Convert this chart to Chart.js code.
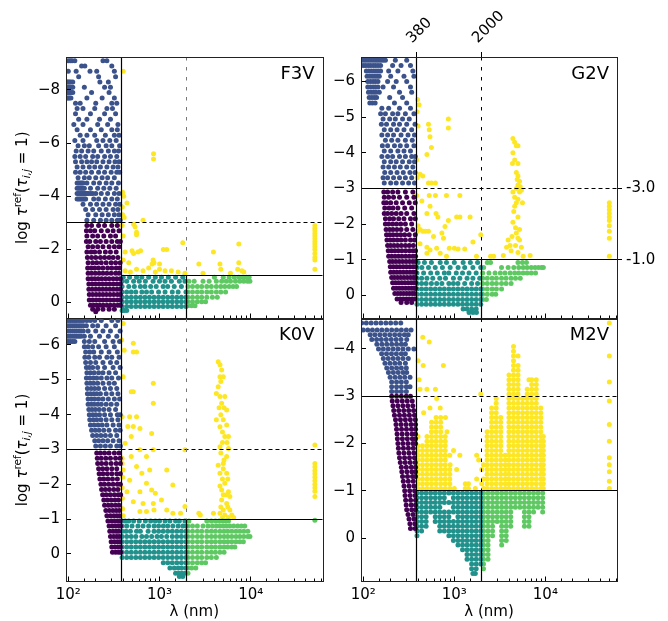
<!DOCTYPE html>
<html>
<head>
<meta charset="utf-8">
<script src="https://cdn.jsdelivr.net/npm/chart.js@4"></script>
<style>
  body { margin: 0; background: #fff; }
  canvas { position: absolute; left: 0; top: 0; }
</style>
</head>
<body>
<canvas id="c0" width="668" height="621"></canvas>
<canvas id="c1" width="668" height="621"></canvas>
<canvas id="c2" width="668" height="621"></canvas>
<canvas id="c3" width="668" height="621"></canvas>
<script>
// wavelength axis (nm) and the two cuts
var xRange = [94.4, 61200];
var lamCuts = [380, 2000];
var tauCuts = [-3, -1];

var starTypes = ['F3V', 'G2V', 'K0V', 'M2V'];
var tauRanges = [[-9.24, 0.6], [-6.69, 0.65], [-6.76, 0.79], [-4.645, 0.92]];
var tauSteps = [2, 1, 1, 1];

// rows: [log tau, [wavelengths in nm]]
var f3vRows = [
  [-9.1,[100,105,110,118,240,265]],[-8.9,[140,152,300]],[-8.7,[100,122,173,205,320]],[-8.5,[130,215,330]],
  [-8.3,[97,100,103,107,112,222,275]],[-8.1,[97,100,103,107,112,150,250,290]],[-7.9,[97,100,103,107,112,180,280]],
  [-7.7,[97,100,103,107,160,235,320]],[-7.5,[120,135,200,300,340]],[-7.3,[125,145,195,265,305]],[-7.1,[120,175,250,330]],
  [-6.9,[130,160,220,290]],[-6.7,[115,145,210,270,350]],[-6.5,[125,175,230,300,345]],[-6.3,[135,160,195,255,320,360]],
  [-6.1,[118,145,205,240,285,335]],[-5.9,[128,150,170,215,260,300,365]],[-5.7,[122,140,165,190,230,275,320,355]],
  [-5.5,[118,135,155,185,210,250,290,340]],[-5.3,[120,140,160,180,205,240,280,325,360]],[-5.1,[125,145,170,195,225,265,310,350]],
  [-4.9,[120,135,155,180,215,250,295,340,365]],[-4.7,[128,150,170,200,235,270,320]],
  [-4.5,[125,130,135,140,145,160,190,220,260,300,355]],[-4.3,[125,130,135,140,145,150,175,210,245,285,335]],
  [-4.1,[125,130,135,140,145,150,155,160,165,175,185,200,230,270,320,360]],[-3.9,[125,130,135,140,145,150,155,190,215,255,300,345]],
  [-3.7,[145,175,205,240,280,330,365]],[-3.5,[155,185,220,260,310,350]],[-3.3,[165,200,235,275,320,360]],[-3.1,[160,190,225,260,300,345,370]],
  [-2.9,[160,180,215,250,300,345]],[-2.7,[158,175,195,230,270,310,360]],[-2.5,[160,185,210,245,290,330]],
  [-2.3,[158,172,200,225,260,300,345,372]],[-2.1,[165,185,210,240,280,320,360]],[-1.9,[160,178,195,220,255,290,335]],
  [-1.7,[162,180,200,225,250,280,310,350]],[-1.5,[165,185,205,230,260,295,330,370]],[-1.3,[163,178,195,215,240,270,300,335,365]],
  [-1.1,[165,180,198,218,240,265,295,330,360]],[-0.9,[165,180,195,212,232,255,280,310,340,372]],
  [-0.7,[168,183,200,218,238,260,285,312,342,372]],[-0.5,[168,183,200,218,238,260,285,312,342,372]],
  [-0.3,[170,185,202,220,240,262,287,315,345,372]],[-0.1,[170,185,202,220,240,262,287,315,345,372]],
  [0.1,[175,190,205,222,242,265,290,318,348,372]],[0.25,[185,210,240,280,320]],[0.35,[200]],
  [-0.95,[400,470,560,640,760,900,1050,1250,1500,1800]],[-0.8,[389,437,520,600,700,850,1000,1150,1350,1650,1900]],
  [-0.6,[389,460,530,617,692,800,920,1096,1230,1450,1738]],[-0.4,[389,437,490,550,640,720,820,977,1150,1380,1600,1950]],
  [-0.2,[389,437,490,550,617,692,776,871,977,1096,1230,1380,1549,1738,1950]],
  [-0.03,[389,437,490,550,617,692,776,871,977,1096,1230,1380,1549,1738,1950]],
  [0.15,[389,437,490,550,617,692,776,871,977,1096,1230,1380,1549,1738,1950]],[0.3,[389,410,437]],
  [-0.95,[4000,5000,5800,6600,7400,8200,9000,9600]],[-0.8,[2100,2400,3000,3500,4200,4800,5400,6000,6800,7600,8400,9200,9800]],
  [-0.6,[2050,2300,2600,2900,3300,3700,4200,4700,5200,5800,6400,7000]],[-0.4,[2050,2300,2600,2900,3300,3700,4200,4700,5300]],
  [-0.2,[2050,2300,2600,2900,3300,3800,4300]],[-0.03,[2050,2300,2600,2900,3200]],[0.12,[2050,2250,2450]],
  [-8.7,[400]],[-5.6,[860]],[-5.4,[860]],[-4.15,[395]],[-4.0,[405]],[-3.75,[440]],[-3.6,[392]],[-3.3,[395]],[-3.2,[410]],
  [-3.1,[660]],[-2.95,[520]],[-2.9,[390]],[-2.85,[540]],[-2.65,[560]],[-2.55,[560]],[-2.5,[400]],[-2.25,[1800]],[-2.2,[7400]],
  [-2.0,[1100,1200]],[-1.95,[500,620]],[-1.9,[420,580,3900]],[-1.85,[520]],[-1.6,[400,850]],[-1.5,[460,870,7400]],
  [-1.45,[830,1000,2700,4600]],[-1.3,[760]],[-1.25,[560,1000,4700,7200]],[-1.2,[420,660,1150,1350,8000]],
  [-1.15,[480,900,1600,8400]],[-1.1,[1900,3000,6000]],
  [-2.9,[50500]],[-2.8,[50500]],[-2.7,[50500]],[-2.6,[50500]],[-2.5,[50500]],[-2.4,[50500]],[-2.3,[50500]],[-2.2,[50500]],
  [-2.1,[50500]],[-2.0,[50500]],[-1.85,[50500]],[-1.7,[50500]],[-1.6,[50500]],[-1.25,[50500]]
];

var g2vRows = [
  [-6.6,[96,102,108,115,122,130,138,146,155,165,175,225,300]],[-6.45,[100,106,113,120,128,136,145,155,210,260,330]],
  [-6.3,[108,115,122,130,138,146,155,190,240,350]],[-6.15,[110,118,126,134,142,150,200,280,360]],
  [-6.0,[112,120,128,136,145,185,230,300]],[-5.85,[112,120,128,136,145,165,215,330]],[-5.7,[114,122,130,138,150,250,340]],
  [-5.55,[116,124,132,140,195,270]],[-5.4,[118,126,135,220,300]],[-5.25,[160,190,250,330]],[-5.1,[155,175,210,240,290,360]],
  [-4.95,[165,195,225,270,320]],[-4.8,[158,180,215,250,300,370]],[-4.65,[170,200,235,280,340]],[-4.5,[160,185,215,260,310,365]],
  [-4.35,[175,205,240,290,345]],[-4.2,[162,185,220,255,300,360]],[-4.05,[170,200,240,280,330]],[-3.9,[160,185,210,250,290,340,372]],
  [-3.75,[170,200,230,270,320,365]],[-3.6,[165,190,220,255,300,350]],[-3.45,[172,200,235,275,325,370]],
  [-3.3,[165,185,215,250,290,340]],[-3.15,[170,200,230,270,315,365]],
  [-2.9,[168,185,210,240,290,350]],[-2.75,[170,190,215,250,300,360]],[-2.6,[168,180,200,230,270,320,372]],
  [-2.45,[172,192,212,240,285,340]],[-2.3,[170,185,205,230,260,300,360]],[-2.15,[175,195,215,245,280,330,372]],
  [-2.0,[175,190,210,232,258,290,340]],[-1.85,[178,195,212,234,260,300,350]],[-1.7,[180,195,212,234,258,285,320,372]],
  [-1.55,[182,198,215,236,260,290,330,365]],[-1.4,[185,200,218,238,262,290,320,355]],
  [-1.25,[188,204,222,242,265,292,322,352,375]],[-1.1,[190,206,224,244,266,292,320,350,375]],
  [-0.95,[195,210,228,248,270,295,322,350,375]],[-0.8,[198,214,232,252,274,298,325,352,375]],
  [-0.65,[200,216,234,254,276,300,326,352,375]],[-0.5,[205,220,238,258,280,304,330,355,375]],
  [-0.35,[210,226,244,264,286,310,335,358,375]],[-0.2,[215,232,250,270,292,316,340,362,375]],
  [-0.05,[222,240,258,278,300,322,345,365]],[0.1,[235,255,275,298,320,345,368]],[0.2,[260,300,340]],
  [-0.92,[400,470,560,700,820,1000,1250,1500,1800]],[-0.78,[389,440,520,617,740,900,1100,1300,1600,1950]],
  [-0.63,[389,460,550,650,776,871,1050,1230,1450,1738]],[-0.48,[389,437,500,580,692,800,977,1150,1380,1600,1900]],
  [-0.33,[389,437,490,560,640,730,871,977,1096,1300,1549,1800]],
  [-0.18,[389,437,490,550,617,692,776,871,977,1096,1230,1380,1549,1738,1950]],
  [-0.03,[389,437,490,550,617,692,776,871,977,1096,1230,1380,1549,1738,1950]],
  [0.12,[389,437,490,550,617,692,776,871,977,1096,1230,1380,1549,1738,1950]],
  [0.25,[389,437,490,550,617,692,776,871,977,1096,1230,1380,1549,1738,1950]],
  [0.38,[1250,1380,1549,1738]],[0.48,[1450,1600,1750]],
  [-0.92,[2300,2500,5000,5600,6200]],[-0.78,[2100,3300,3900,4500,5100,5700,6300,7000,7700,8400,9100,9500]],
  [-0.63,[2050,2400,2800,3200,3600,4100,4600,5100,5700,6300,7000,7800]],[-0.48,[2050,2300,2600,2900,3300,3700,4200,4700,5300]],
  [-0.33,[2050,2300,2600,2900,3300,3700,4200]],[-0.18,[2050,2300,2600,2900,3300]],[-0.03,[2050,2300,2600,2850]],[0.12,[2050,2250]],
  [-5.5,[395]],[-5.35,[410]],[-5.15,[390]],[-4.95,[860]],[-4.8,[520]],[-4.75,[400]],[-4.7,[860]],[-4.65,[530]],[-4.45,[540]],
  [-4.15,[560]],[-3.95,[500]],[-3.8,[385]],[-3.4,[420]],[-3.35,[450]],[-3.3,[390]],[-3.15,[520,560,620]],
  [-2.8,[385,530,620,820,1150]],[-2.65,[440]],[-2.5,[541]],[-2.3,[500,630]],[-2.2,[660,1060,1150,1490]],[-2.1,[860]],
  [-1.95,[400]],[-1.93,[790]],[-1.85,[420]],[-1.8,[390,450,480,520]],[-1.75,[730]],[-1.7,[1950]],[-1.65,[590]],[-1.6,[760]],
  [-1.5,[1600]],[-1.45,[420]],[-1.35,[500]],[-1.32,[640,880,1000]],[-1.3,[1100,1300]],[-1.27,[541]],[-1.18,[500,700]],
  [-1.1,[820,1750,2500,2700]],
  [-4.4,[4400]],[-4.3,[4600]],[-4.2,[4800,5000]],[-4.0,[4400]],[-3.8,[4600]],[-3.7,[4350,5000]],[-3.45,[4800]],[-3.35,[5000]],
  [-3.25,[4900]],[-3.2,[5200]],[-3.1,[5000]],[-3.05,[5100,5300]],[-3.0,[4800]],[-2.95,[5450]],[-2.9,[4400,5200]],[-2.75,[4600]],
  [-2.7,[5000]],[-2.6,[4800,5600]],[-2.5,[4600]],[-2.35,[4500]],[-2.2,[5000]],[-2.05,[4400]],[-1.9,[4700]],[-1.85,[5200]],
  [-1.75,[4800]],[-1.65,[4300]],[-1.6,[5000]],[-1.55,[3900,5200]],[-1.4,[4100,4700]],[-1.35,[3750,5450]],[-1.25,[4200]],
  [-1.2,[5000]],[-1.12,[3450,6800]],[-1.1,[5700]],
  [-2.6,[50400]],[-2.5,[50400]],[-2.4,[50400]],[-2.3,[50400]],[-2.2,[50400]],[-2.1,[50400]],[-1.95,[50400]],[-1.8,[50400]],
  [-1.6,[50400]],[-1.1,[50400]]
];

var k0vRows = [
  [-6.7,[96,101,106,112,118,124,131,138,146,160,175,195,230,300,350]],[-6.55,[96,101,106,112,118,124,131,138,146,158,185,210,260,330]],
  [-6.4,[96,101,106,112,118,124,131,138,146,165,200,240,290,370]],[-6.25,[96,101,106,112,118,124,131,138,150,175,220,275,340]],
  [-6.1,[96,101,106,112,118,150,170,195,250,310,365]],[-5.95,[150,165,185,215,260,320]],[-5.8,[155,172,190,230,280,345]],
  [-5.65,[152,168,195,220,265,300,360]],[-5.5,[155,175,200,240,290,340]],[-5.35,[158,170,185,210,250,310,370]],
  [-5.2,[160,175,192,215,240,280,330]],[-5.05,[158,172,188,205,230,265,300,355]],[-4.9,[160,175,190,210,240,280,320]],
  [-4.75,[162,178,195,215,250,290,340]],[-4.6,[162,175,190,205,225,260,300,350]],[-4.45,[165,180,195,215,240,275,320,365]],
  [-4.3,[165,178,192,210,230,260,295,340]],[-4.15,[168,182,198,218,245,280,330]],[-4.0,[170,185,200,220,250,290,345,370]],
  [-3.85,[172,188,205,228,260,300,350]],[-3.7,[175,192,212,235,265,310,360]],[-3.55,[180,198,218,245,280,330,370]],
  [-3.4,[185,205,228,255,290,340]],[-3.25,[195,215,240,270,310,360]],[-3.1,[200,225,255,290,340,372]],
  [-2.9,[205,225,250,280,320,360]],[-2.75,[208,230,258,290,330,370]],[-2.6,[210,232,260,295,335,372]],
  [-2.45,[215,238,265,300,340]],[-2.3,[218,240,268,300,340,372]],[-2.15,[222,245,272,305,345]],
  [-2.0,[228,250,278,310,345,372]],[-1.85,[232,255,282,315,350]],[-1.7,[238,260,288,320,352,375]],
  [-1.55,[245,268,295,325,355]],[-1.4,[250,275,300,330,360]],[-1.25,[258,282,308,335,362]],[-1.1,[265,290,315,340,365]],
  [-0.95,[272,298,322,348,370]],[-0.8,[280,305,330,355,375]],[-0.65,[285,310,335,358]],[-0.5,[290,315,340,362]],
  [-0.35,[295,320,345,368]],[-0.2,[300,325,350,372]],[-0.05,[305,330,355,375]],
  [-0.95,[389,420,460,520,600,700,800,900,1000,1150,1300,1500,1650,1900]],
  [-0.8,[389,437,500,580,660,760,871,977,1100,1230,1400,1600,1800,1950]],
  [-0.65,[389,430,480,560,617,750,871,977,1096,1230,1380,1549,1738,1950]],
  [-0.5,[389,437,490,550,640,720,820,940,1050,1200,1380,1549,1738,1950]],
  [-0.35,[389,437,490,550,617,692,776,871,977,1096,1230,1380,1549,1738,1950]],
  [-0.2,[389,437,490,550,617,692,776,871,977,1096,1230,1380,1549,1738,1950]],
  [-0.05,[389,437,490,550,617,692,776,871,977,1096,1230,1380,1549,1738,1950]],
  [0.1,[389,437,490,550,617,692,776,871,977,1096,1230,1380,1549,1738,1950]],
  [0.25,[1100,1230,1380,1549,1738,1950]],[0.4,[1300,1450,1600,1750,1950]],[0.55,[1500,1620,1750,1900]],[0.65,[1650,1800]],
  [-0.95,[2100,3300,3700,4100,4500,4900,5300,5700]],
  [-0.8,[2050,2300,2600,3000,3400,3800,4200,4600,5000,5400,5900,6500,7200,7900,8600]],
  [-0.65,[2050,2300,2600,2900,3300,3700,4100,4600,5100,5600,6200,6900,7600,8400,9300]],
  [-0.5,[2050,2300,2600,2900,3300,3700,4100,4600,5100,5600,6200,6900,7600,8400,9300,9800]],
  [-0.35,[2050,2300,2600,2900,3300,3700,4100,4600,5100,5600,6200,6900,7600,8300]],
  [-0.2,[2050,2300,2600,2900,3300,3700,4100,4600,5100,5600,6200,6700]],
  [-0.05,[2050,2300,2600,2900,3300,3700,4100,4600,5100]],[0.1,[2050,2300,2600,2900,3300,3700,4200]],
  [0.25,[2050,2300,2600,2900,3200]],[0.4,[2050,2250,2500]],[0.55,[2050]],
  [-6.62,[400]],[-6.14,[385]],[-6.05,[516]],[-5.85,[410]],[-5.8,[516,560]],[-5.09,[400]],[-4.9,[855]],[-4.66,[490,516]],
  [-4.33,[855]],[-3.94,[390,470,560]],[-3.66,[450,516]],[-3.6,[610]],[-3.46,[820]],[-3.37,[490]],[-3.18,[420]],
  [-2.99,[610,855,1900]],[-2.8,[490,720]],[-2.75,[390]],[-2.6,[390]],[-2.51,[560]],[-2.41,[400,780,1200]],[-2.32,[640]],
  [-2.2,[395]],[-2.12,[470]],[-2.03,[720]],[-1.98,[1400]],[-1.9,[390]],[-1.84,[820]],[-1.79,[440,610]],[-1.74,[900]],
  [-1.6,[392]],[-1.55,[1050]],[-1.5,[516]],[-1.45,[660,855]],[-1.36,[1900]],[-1.3,[395]],[-1.26,[870,1200]],
  [-1.22,[610,720]],[-1.17,[1400,1700,2700]],[-1.12,[2800]],[-1.1,[400]],
  [-5.52,[4400]],[-5.43,[4600]],[-5.28,[4800]],[-5.09,[4600,5000]],[-4.95,[4700]],[-4.8,[4400]],[-4.61,[4200]],
  [-4.52,[4600,5200]],[-4.33,[4800]],[-4.2,[4500,5100]],[-4.13,[5450]],[-4.0,[4700]],[-3.85,[4200,5000]],[-3.7,[5450]],
  [-3.65,[4600]],[-3.5,[4900]],[-3.37,[5200,5700]],[-3.2,[4900,5500]],[-3.08,[4600]],[-3.03,[5700]],[-2.9,[4700]],
  [-2.8,[5450]],[-2.7,[5100]],[-2.6,[5000]],[-2.55,[4400]],[-2.45,[5000]],[-2.32,[4600,5450]],[-2.15,[4900,5600]],
  [-2.03,[5200]],[-1.95,[4600]],[-1.84,[4800]],[-1.79,[5700]],[-1.7,[5000,5400]],[-1.65,[5900]],[-1.55,[4800]],
  [-1.45,[5450]],[-1.35,[4700,5600]],[-1.26,[5000,5900]],[-1.17,[3900,4600]],[-1.12,[5200,6200]],[-1.05,[4900,5700,6500]],
  [-3.13,[50500]],[-2.6,[50500]],[-2.5,[50500]],[-2.4,[50500]],[-2.3,[50500]],[-2.2,[50500]],[-2.1,[50500]],
  [-2.0,[50500]],[-1.9,[50500]],[-1.8,[50500]],[-1.65,[50500]],[-0.97,[50500]]
];

var m2vRows = [
  [-4.55,[96,108,122,138,156,177,200,227,258]],[-4.4,[100,112,126,142,160,181,205,232,262,297,335]],
  [-4.3,[119,134,152,172,195,221,250,283,312]],[-4.2,[124,140,158,179,203,230,260,300]],[-4.1,[141,160,181,205,232,262,290]],
  [-4.0,[147,166,188,213,241,273,312,360]],[-3.9,[159,180,204,231,262,290]],[-3.8,[166,188,213,241,273,312]],
  [-3.7,[173,196,222,251,290]],[-3.6,[181,205,232,262,297]],[-3.5,[189,214,242,274,300]],[-3.4,[197,223,252,285,326]],
  [-3.3,[205,232,262,297]],[-3.2,[205,232,262,297,326]],[-3.1,[205,232,262,297]],
  [-3.0,[205,232,262,297,330]],[-2.9,[208,236,268,304,345]],[-2.8,[212,240,272,308,350]],[-2.7,[216,245,278,315,357]],
  [-2.6,[220,250,283,321,365]],[-2.5,[226,256,290,329,373]],[-2.4,[229,260,295,335,375]],[-2.3,[232,263,298,338,375]],
  [-2.2,[235,267,303,343,375]],[-2.1,[237,269,305,346,375]],[-2.0,[240,272,309,350,375]],[-1.9,[243,276,313,355]],
  [-1.8,[246,279,317,359]],[-1.7,[250,284,322,365]],[-1.6,[255,289,328,372]],[-1.5,[262,297,337,375]],
  [-1.4,[265,301,341,375]],[-1.3,[270,306,347,375]],[-1.2,[275,312,354]],[-1.1,[280,318,360]],[-1.0,[285,323,366]],
  [-0.9,[288,327,371]],[-0.8,[292,331,375]],[-0.7,[296,336,375]],[-0.6,[300,340,375]],[-0.5,[310,352]],
  [-0.4,[318,360]],[-0.3,[325,368]],[-0.2,[330,372]],
  [-0.95,[389,437,490,550,617,692,776,871,977,1096,1230,1380,1549,1738,1950]],
  [-0.85,[389,437,490,550,617,692,776,977,1096,1230,1380,1549,1738,1950]],
  [-0.75,[389,437,490,550,617,692,776,871,977,1096,1230,1380,1549,1738,1950]],
  [-0.65,[389,437,490,550,617,692,977,1096,1230,1380,1549,1738,1950]],
  [-0.55,[389,437,490,550,617,692,776,871,977,1096,1230,1380,1549,1738,1950]],
  [-0.45,[389,437,490,617,692,776,871,1096,1230,1380,1549,1738,1950]],
  [-0.35,[389,437,490,617,692,776,871,977,1096,1230,1380,1549,1738,1950]],
  [-0.25,[389,437,490,692,776,871,977,1096,1230,1380,1549,1738,1950]],
  [-0.15,[389,437,692,776,871,977,1096,1230,1380,1549,1738,1950]],
  [-0.05,[389,871,977,1096,1230,1380,1549,1738,1950]],[0.05,[977,1096,1230,1380,1549,1738,1950]],
  [0.15,[1096,1230,1380,1549,1738,1950]],[0.25,[1230,1380,1549,1738,1950]],[0.35,[1380,1549,1738,1950]],
  [0.45,[1380,1549,1738,1950]],[0.55,[1549,1738,1950]],[0.65,[1549,1738]],[0.75,[1600,1700]],
  [-0.95,[2090,2344,2630,2951,3311,3715,4169,4677,5248,5888,6607,7413,8318,9333]],
  [-0.85,[2090,2344,2630,2951,3311,3715,4169,4677,5248,5888,6607,7413,8318,9333]],
  [-0.75,[2090,2344,2630,2951,3311,3715,4169,4677,5248,5888,6607,7413,8318,9333]],
  [-0.65,[2090,2344,2630,2951,3311,3715,4169,4677,5248,5888,6607,7413,8318,9333]],
  [-0.55,[2090,2344,2630,2951,3311,3715,4169,5888,6607,7413,9333]],
  [-0.45,[2090,2344,2630,2951,3311,3715,4169,5888,6607]],[-0.35,[2090,2344,2630,2951,3311,3715,4169,5888,6607]],
  [-0.25,[2090,2344,2630,3311,3715,4169,5888,6607]],[-0.15,[2090,2344,2630,3311,3715]],[-0.05,[2090,2344,2630,3311,3715]],
  [0.05,[2090,2344,3311,3715]],[0.15,[2090,2344,3311]],[0.25,[2090,2344]],[0.35,[2090,2344]],[0.45,[2090,2344]],
  [0.55,[2090]],[0.65,[2090]],
  [-1.05,[398,447,501,562,631,708,794,891,1000,1320,1430,1700,2090,2291,2570,2884,3236,3631,3981,4467,5012,5623,6310,7079,7943,8913,9500]],
  [-1.15,[398,447,501,562,631,708,794,891,1320,1430,2000,2291,2570,2884,3236,3631,3981,4467,5012,5623,6310,7079,7943,8913,9500]],
  [-1.25,[398,447,501,562,631,708,794,891,1760,2090,2291,2570,2884,3236,3631,3981,4467,5012,5623,6310,7079,7943,8913,9500]],
  [-1.35,[398,447,501,562,631,708,794,891,2291,2570,2884,3236,3631,3981,4467,5012,5623,6310,7079,7943,8913,9500]],
  [-1.45,[398,447,501,562,631,708,794,891,1060,2000,2291,2570,2884,3236,3631,3981,4467,5012,5623,6310,7079,7943,8913,9500]],
  [-1.55,[398,447,501,562,631,708,794,900,2090,2291,2570,2884,3236,3631,3981,4467,5012,5623,6310,7079,7943,8913,9500]],
  [-1.65,[398,447,501,562,631,708,794,1850,2291,2570,2884,3236,3631,3981,4467,5012,5623,6310,7079,7943,8913,9500]],
  [-1.75,[398,447,501,562,631,708,794,891,1150,1760,2291,2570,2884,3236,3631,3981,4467,5012,5623,6310,7079,7943,8913,9500]],
  [-1.85,[398,447,501,562,631,708,794,980,2291,2570,2884,3236,3981,4467,5012,5623,6310,7079,7943,8913,9500]],
  [-1.95,[398,447,501,562,631,708,794,2291,2570,2884,3236,3981,4467,5012,5623,6310,7079,7943,8913,9500]],
  [-2.05,[501,562,631,708,794,2291,2570,2884,3236,3981,4467,5012,5623,6310,7079,7943,8913,9500]],
  [-2.15,[400,501,562,631,708,794,2291,2570,2884,3236,3981,4467,5012,5623,6310,7079,7943,8913,9500]],
  [-2.25,[562,631,708,830,2291,2570,2884,3236,3981,4467,5012,5623,6310,7079,7943,8913]],
  [-2.35,[562,631,708,2570,2884,3236,3981,4467,5012,5623,6310,7079,7943,8913]],
  [-2.45,[562,631,708,2570,2884,3236,3981,4467,5012,5623,6310,7079,7943,8913]],
  [-2.55,[631,708,800,2570,2884,3236,3981,4467,5012,5623,6310,7079,7943,8913]],
  [-2.65,[460,2570,2884,3981,4467,5012,5623,6310,7079,7943,8913]],
  [-2.75,[540,700,2570,2884,3981,4467,5012,5623,6310,7079,7943,8913]],
  [-2.85,[2884,3981,4467,5012,5623,6310,7079,7943]],[-2.95,[640,2884,3981,4467,5012,5623,6310,7079,7943]],
  [-3.05,[1950,3981,4467,5012,6310,7079,7943]],[-3.15,[420,500,620,3981,4467,5012,6310,7079,7943]],
  [-3.25,[3981,4467,5012,7079,7943]],[-3.35,[410,3981,4467,5012,6600,7079,7943]],[-3.45,[3981,4467,5012]],
  [-3.55,[4467,5012]],[-3.65,[455,758,4467,5012]],[-3.75,[400,4467]],[-3.85,[4467,5012]],[-3.95,[4467]],
  [-4.05,[4467]],[-4.15,[530]],[-4.25,[450]],
  [-4.55,[50400]],[-3.85,[50400]],[-3.3,[50400]],[-2.9,[50400]],[-2.4,[50400]],[-2.05,[50400]],[-1.7,[50400]],
  [-1.55,[50400]],[-1.4,[50400]],[-1.2,[50400]],[-1.05,[50400]]
];

var panelRows = [f3vRows, g2vRows, k0vRows, m2vRows];

var FONT = "'DejaVu Sans', sans-serif";
var viridis = ['#440154', '#3b528b', '#21918c', '#5ec962', '#fde725'];
// chart areas [left, top, right, bottom]
var areas = [[66, 57, 322.5, 318.5], [361, 57, 617, 318.5], [66, 318.5, 322.5, 581.5], [361, 318.5, 617, 581.5]];

function classOf(lam, tau) {
    if (lam < lamCuts[0]) return tau < tauCuts[0] ? 1 : 0;
    if (tau < tauCuts[1]) return 4;
    return lam < lamCuts[1] ? 2 : 3;
}

var supDigits = ['\u2070', '\u00b9', '\u00b2', '\u00b3', '\u2074', '\u2075'];
function decadeLabel(v) {
    var e = Math.log10(v);
    if (Math.abs(e - Math.round(e)) > 1e-9) return '';
    return '10' + supDigits[Math.round(e)];
}
function minusLabel(v) {
    return v < 0 ? '\u2212' + (-v) : String(v);
}

function drawYTitle(ctx, cx, cy) {
    var parts = [['log ', 15, 0, ''], ['\u03c4', 15, 0, 'italic '], ['ref', 10.5, -6, ''], ['(', 15, 0, ''],
                 ['\u03c4', 15, 0, 'italic '], ['i,j', 10.5, 3, 'italic '], [' = 1)', 15, 0, '']];
    ctx.save();
    ctx.translate(cx, cy);
    ctx.rotate(-Math.PI / 2);
    ctx.fillStyle = '#000';
    ctx.textBaseline = 'alphabetic';
    ctx.textAlign = 'left';
    var total = 0, widths = [];
    parts.forEach(function (p) {
        ctx.font = p[3] + p[1] + 'px ' + FONT;
        var w = ctx.measureText(p[0]).width;
        widths.push(w);
        total += w;
    });
    var x = -total / 2;
    parts.forEach(function (p, i) {
        ctx.font = p[3] + p[1] + 'px ' + FONT;
        ctx.fillText(p[0], x, p[2]);
        x += widths[i];
    });
    ctx.restore();
}

var panelDeco = {
    id: 'panelDeco',
    afterDatasetsDraw: function (chart, args, o) {
        var ctx = chart.ctx, a = chart.chartArea, xs = chart.scales.x, ys = chart.scales.y;
        var snap = function (p) { return Math.round(p - 0.5) + 0.5; };
        var seg = function (x1, y1, x2, y2) { ctx.beginPath(); ctx.moveTo(x1, y1); ctx.lineTo(x2, y2); ctx.stroke(); };
        var px1 = snap(xs.getPixelForValue(lamCuts[0])), px2 = snap(xs.getPixelForValue(lamCuts[1]));
        var py3 = snap(ys.getPixelForValue(tauCuts[0])), py1 = snap(ys.getPixelForValue(tauCuts[1]));
        ctx.save();
        ctx.strokeStyle = '#000';
        ctx.lineWidth = 1.2;
        seg(px1, a.top, px1, a.bottom);
        seg(a.left, py3, px1, py3);
        seg(px1, py1, a.right, py1);
        seg(px2, py1, px2, a.bottom);
        ctx.lineWidth = 1;
        ctx.setLineDash([4, 3]);
        seg(px1, py3, a.right, py3);
        ctx.setLineDash([3.5, 6.5]);
        ctx.strokeStyle = o.dashColor;
        seg(px2, a.top, px2, py1);
        ctx.setLineDash([]);
        // inward ticks
        ctx.strokeStyle = '#000';
        ctx.lineWidth = 1;
        xs.ticks.forEach(function (t) {
            var v = t.value;
            if (v <= xs.min * 1.001 || v >= xs.max * 0.999) return;
            var sig = v / Math.pow(10, Math.floor(Math.log10(v) + 1e-9));
            var len = Math.abs(sig - 1) < 1e-6 ? 5 : 3;
            var px = snap(xs.getPixelForValue(v));
            seg(px, a.bottom, px, a.bottom - len);
        });
        ys.ticks.forEach(function (t) {
            var py = snap(ys.getPixelForValue(t.value));
            seg(a.left, py, a.left + 5, py);
        });
        // frame
        ctx.strokeStyle = '#222';
        ctx.strokeRect(snap(a.left), snap(a.top), Math.round(a.right - a.left), Math.round(a.bottom - a.top));
        // star type label
        ctx.fillStyle = '#000';
        ctx.font = '18px ' + FONT;
        ctx.textAlign = 'right';
        ctx.textBaseline = 'alphabetic';
        ctx.fillText(o.name, a.right - 8, a.top + 21.5);
        ctx.restore();
        if (o.yTitle) drawYTitle(ctx, 27, (a.top + a.bottom) / 2);
    }
};

function makePanel(k) {
    var L = areas[k][0], T = areas[k][1], R = areas[k][2], B = areas[k][3];
    var isTop = k < 2, isRight = k % 2 === 1, twin = k === 1;
    var yw = isRight ? 40 : L;
    var xh = isTop ? 0 : 621 - B;
    var y2w = twin ? 45 : 0;
    var tickFont = { family: FONT, size: 15 };

    var groups = [[], [], [], [], []];
    panelRows[k].forEach(function (row) {
        row[1].forEach(function (lam) {
            groups[classOf(lam, row[0])].push({ x: lam, y: row[0] });
        });
    });

    var scales = {
        x: {
            type: 'logarithmic', position: 'bottom', min: xRange[0], max: xRange[1],
            afterFit: function (s) { s.height = xh; },
            grid: { display: false, drawTicks: false }, border: { display: false },
            ticks: { display: !isTop, autoSkip: false, minRotation: 0, maxRotation: 0, padding: 5, color: '#000', font: tickFont, callback: decadeLabel },
            title: { display: !isTop, text: '\u03bb (nm)', color: '#000', font: tickFont, padding: 0 }
        },
        y: {
            type: 'linear', position: 'left', reverse: true, min: tauRanges[k][0], max: tauRanges[k][1],
            afterFit: function (s) { s.width = yw; },
            grid: { display: false, drawTicks: false }, border: { display: false },
            ticks: { stepSize: tauSteps[k], includeBounds: false, padding: 6, color: '#000', font: tickFont, callback: minusLabel }
        }
    };
    if (twin) {
        scales.x2 = {
            type: 'logarithmic', position: 'top', min: xRange[0], max: xRange[1],
            afterFit: function (s) { s.height = T; },
            afterBuildTicks: function (s) { s.ticks = lamCuts.map(function (v) { return { value: v }; }); },
            grid: { drawOnChartArea: false, drawTicks: true, tickLength: 5, color: '#000', lineWidth: 1 }, border: { display: false },
            ticks: { autoSkip: false, minRotation: 45, maxRotation: 45, padding: 5, labelOffset: 6, color: '#000', font: tickFont, callback: function (v) { return String(v); } }
        };
        scales.y2 = {
            type: 'linear', position: 'right', reverse: true, min: tauRanges[k][0], max: tauRanges[k][1],
            afterFit: function (s) { s.width = y2w; },
            afterBuildTicks: function (s) { s.ticks = tauCuts.map(function (v) { return { value: v }; }); },
            grid: { drawOnChartArea: false, drawTicks: true, tickLength: 5, color: '#000', lineWidth: 1 }, border: { display: false },
            ticks: { padding: 4, color: '#000', font: tickFont, callback: function (v) { return v.toFixed(1); } }
        };
    }

    new Chart(document.getElementById('c' + k), {
        type: 'scatter',
        data: {
            datasets: groups.map(function (pts, i) {
                return { data: pts, backgroundColor: viridis[i], borderWidth: 0, pointRadius: 2.5, pointHoverRadius: 2.5, clip: 0 };
            })
        },
        options: {
            responsive: false,
            animation: false,
            devicePixelRatio: 1,
            events: [],
            layout: { padding: { left: L - yw, top: twin ? 0 : T, right: 668 - R - y2w, bottom: 621 - B - xh } },
            scales: scales,
            plugins: {
                legend: { display: false },
                tooltip: { enabled: false },
                panelDeco: { name: starTypes[k], yTitle: !isRight, dashColor: isRight ? '#000' : '#777' }
            }
        },
        plugins: [panelDeco]
    });
}

for (var k = 0; k < 4; k++) makePanel(k);
</script>
</body>
</html>
